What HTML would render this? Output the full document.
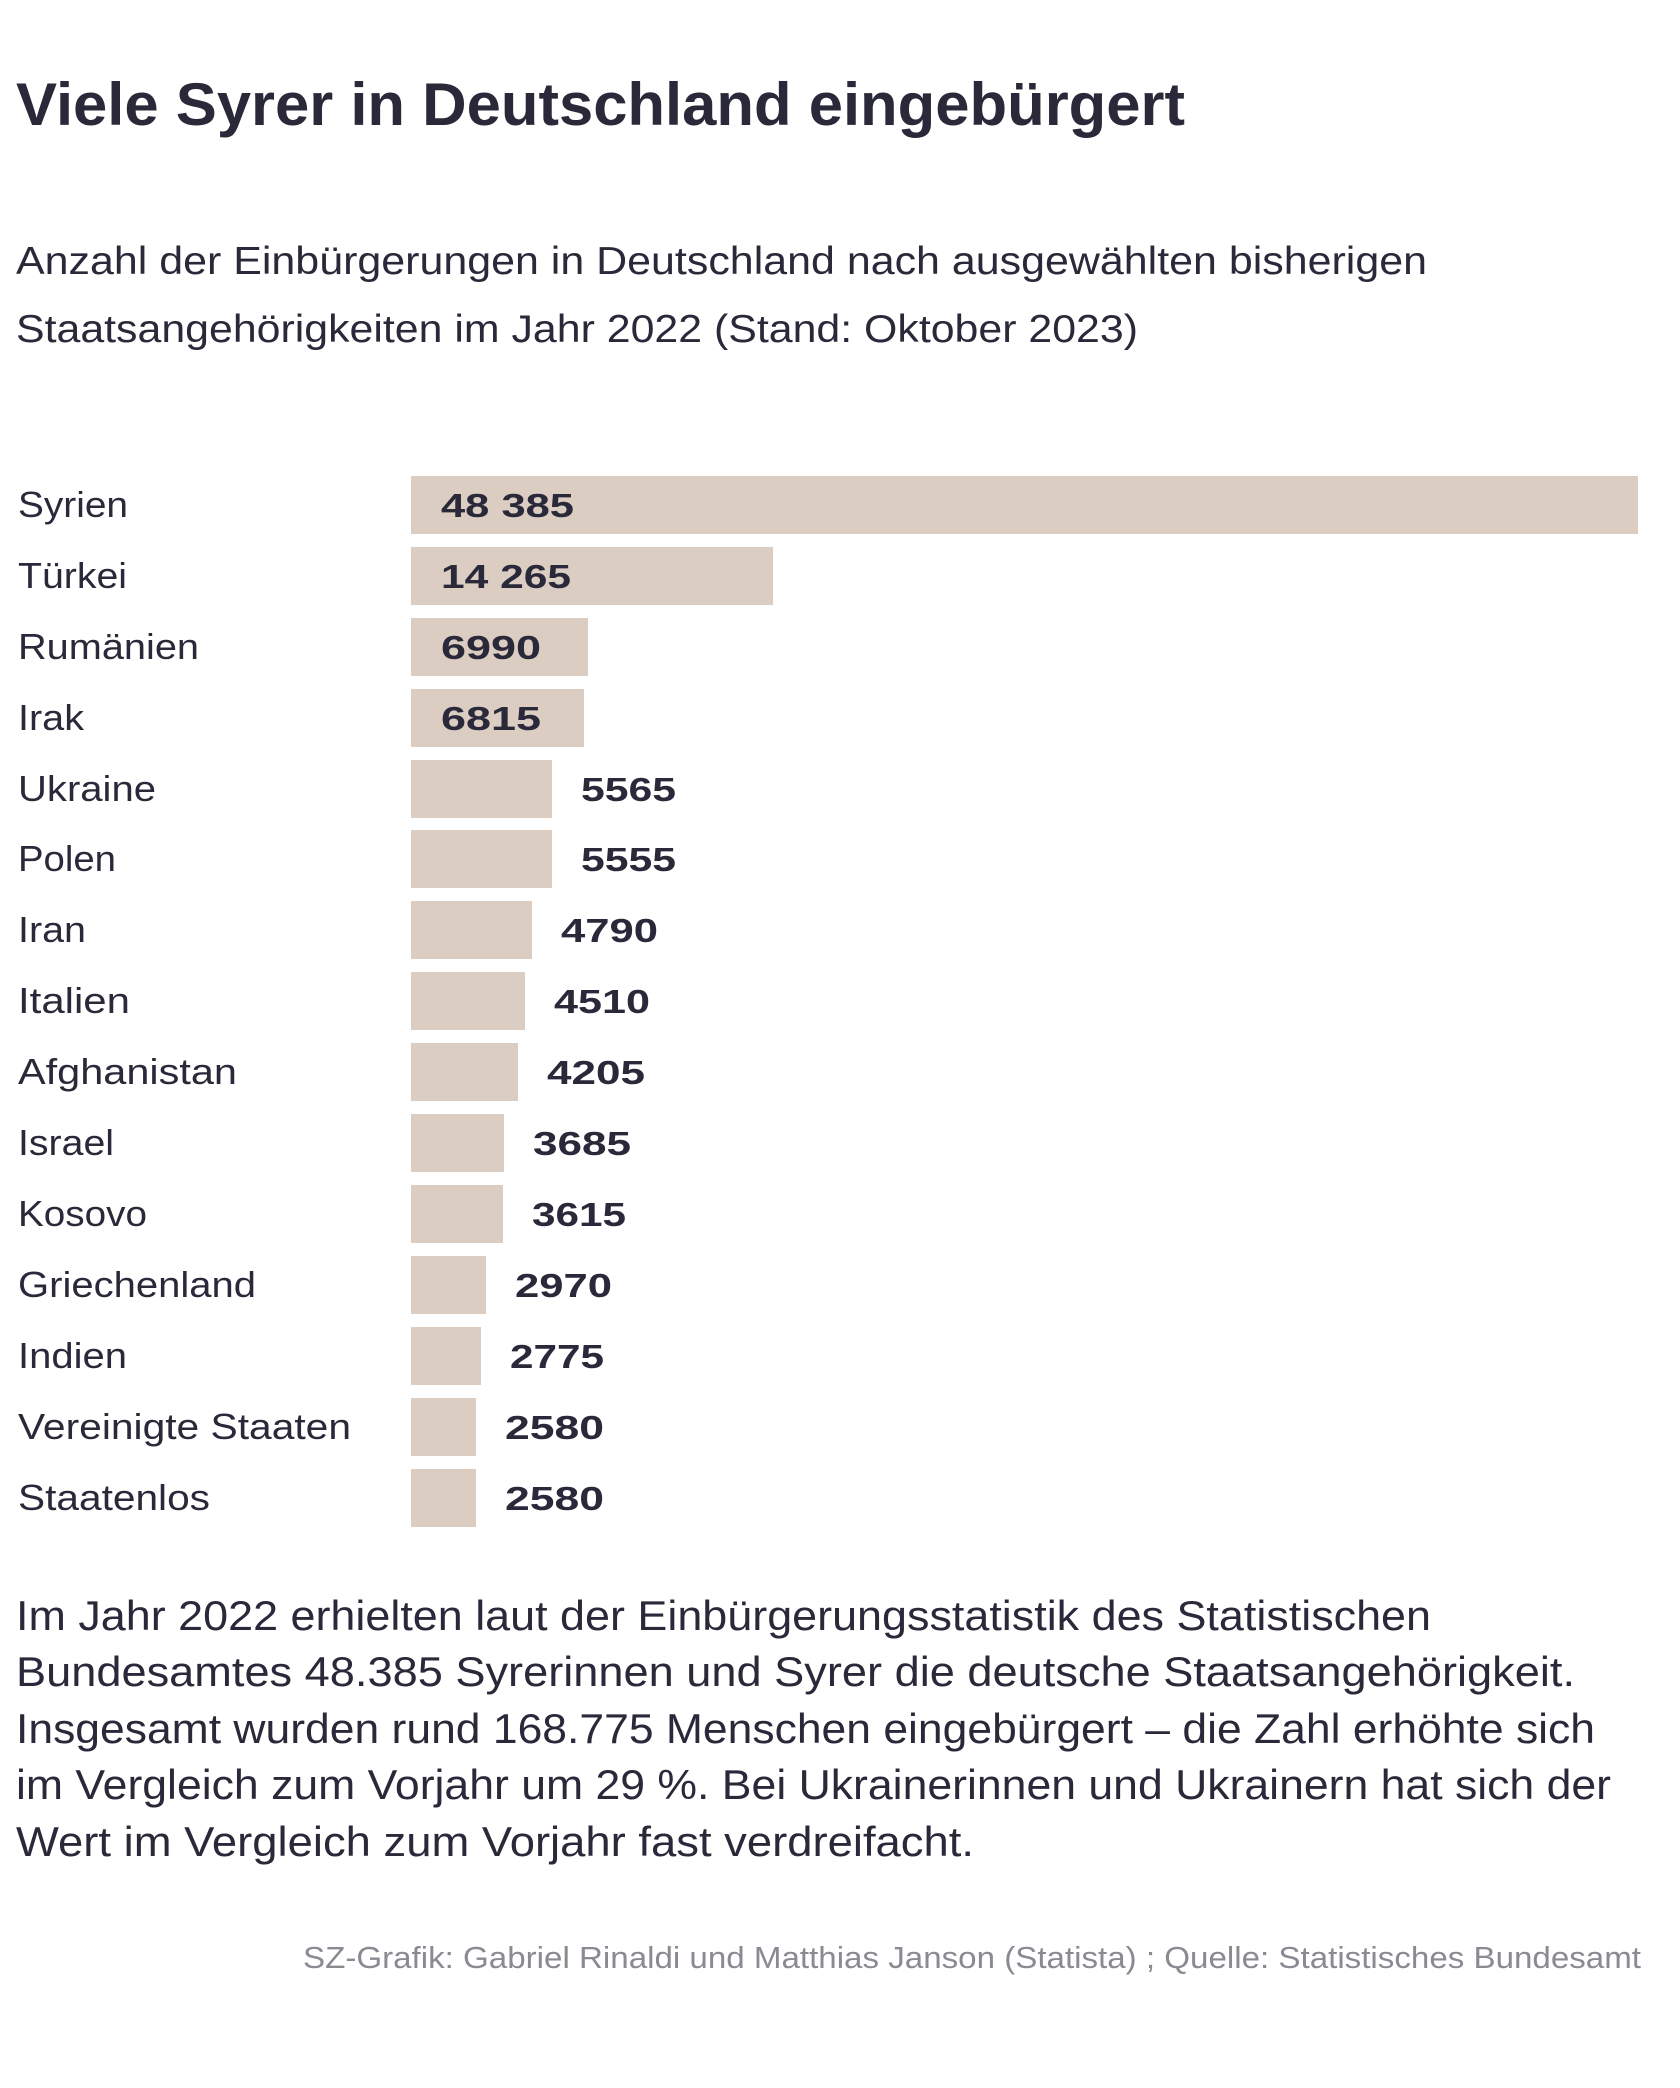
<!DOCTYPE html>
<html><head><meta charset="utf-8"><style>
html,body{margin:0;padding:0;background:#fff;}
svg{display:block;}
text{font-family:"Liberation Sans",sans-serif;fill:#29293a;}
.c{font-size:36px;}
.v{font-size:33px;font-weight:bold;}
.p{font-size:42px;}
</style></head><body>
<svg width="1680" height="2088" viewBox="0 0 1680 2088" xmlns="http://www.w3.org/2000/svg">
<text x="16" y="125" font-size="60" font-weight="bold" textLength="1169" lengthAdjust="spacingAndGlyphs">Viele Syrer in Deutschland eingebürgert</text>
<text x="16" y="274" font-size="39" textLength="1411" lengthAdjust="spacingAndGlyphs">Anzahl der Einbürgerungen in Deutschland nach ausgewählten bisherigen</text>
<text x="16" y="342" font-size="39" textLength="1122" lengthAdjust="spacingAndGlyphs">Staatsangehörigkeiten im Jahr 2022 (Stand: Oktober 2023)</text>
<g fill="#dbcdc2">
<rect x="411" y="476" width="1227" height="58"/>
<rect x="411" y="547" width="362" height="58"/>
<rect x="411" y="618" width="177" height="58"/>
<rect x="411" y="689" width="173" height="58"/>
<rect x="411" y="760" width="141" height="58"/>
<rect x="411" y="830" width="141" height="58"/>
<rect x="411" y="901" width="121" height="58"/>
<rect x="411" y="972" width="114" height="58"/>
<rect x="411" y="1043" width="107" height="58"/>
<rect x="411" y="1114" width="93" height="58"/>
<rect x="411" y="1185" width="92" height="58"/>
<rect x="411" y="1256" width="75" height="58"/>
<rect x="411" y="1327" width="70" height="58"/>
<rect x="411" y="1398" width="65" height="58"/>
<rect x="411" y="1469" width="65" height="58"/>
</g>
<g class="c">
<text x="18" y="517" textLength="110" lengthAdjust="spacingAndGlyphs">Syrien</text>
<text x="18" y="588" textLength="109" lengthAdjust="spacingAndGlyphs">Türkei</text>
<text x="18" y="659" textLength="181" lengthAdjust="spacingAndGlyphs">Rumänien</text>
<text x="18" y="730" textLength="66" lengthAdjust="spacingAndGlyphs">Irak</text>
<text x="18" y="801" textLength="138" lengthAdjust="spacingAndGlyphs">Ukraine</text>
<text x="18" y="871" textLength="98" lengthAdjust="spacingAndGlyphs">Polen</text>
<text x="18" y="942" textLength="68" lengthAdjust="spacingAndGlyphs">Iran</text>
<text x="18" y="1013" textLength="112" lengthAdjust="spacingAndGlyphs">Italien</text>
<text x="18" y="1084" textLength="219" lengthAdjust="spacingAndGlyphs">Afghanistan</text>
<text x="18" y="1155" textLength="96" lengthAdjust="spacingAndGlyphs">Israel</text>
<text x="18" y="1226" textLength="129" lengthAdjust="spacingAndGlyphs">Kosovo</text>
<text x="18" y="1297" textLength="238" lengthAdjust="spacingAndGlyphs">Griechenland</text>
<text x="18" y="1368" textLength="109" lengthAdjust="spacingAndGlyphs">Indien</text>
<text x="18" y="1439" textLength="333" lengthAdjust="spacingAndGlyphs">Vereinigte Staaten</text>
<text x="18" y="1510" textLength="192" lengthAdjust="spacingAndGlyphs">Staatenlos</text>
</g>
<g class="v">
<text x="441" y="517" textLength="133" lengthAdjust="spacingAndGlyphs">48 385</text>
<text x="441" y="588" textLength="130" lengthAdjust="spacingAndGlyphs">14 265</text>
<text x="441" y="659" textLength="100" lengthAdjust="spacingAndGlyphs">6990</text>
<text x="441" y="730" textLength="100" lengthAdjust="spacingAndGlyphs">6815</text>
<text x="581" y="801" textLength="95" lengthAdjust="spacingAndGlyphs">5565</text>
<text x="581" y="871" textLength="95" lengthAdjust="spacingAndGlyphs">5555</text>
<text x="561" y="942" textLength="97" lengthAdjust="spacingAndGlyphs">4790</text>
<text x="554" y="1013" textLength="96" lengthAdjust="spacingAndGlyphs">4510</text>
<text x="547" y="1084" textLength="98" lengthAdjust="spacingAndGlyphs">4205</text>
<text x="533" y="1155" textLength="98" lengthAdjust="spacingAndGlyphs">3685</text>
<text x="532" y="1226" textLength="94" lengthAdjust="spacingAndGlyphs">3615</text>
<text x="515" y="1297" textLength="97" lengthAdjust="spacingAndGlyphs">2970</text>
<text x="510" y="1368" textLength="94" lengthAdjust="spacingAndGlyphs">2775</text>
<text x="505" y="1439" textLength="99" lengthAdjust="spacingAndGlyphs">2580</text>
<text x="505" y="1510" textLength="99" lengthAdjust="spacingAndGlyphs">2580</text>
</g>
<g class="p" style="fill:#3a3a48">
<text x="16" y="1630" textLength="1415" lengthAdjust="spacingAndGlyphs">Im Jahr 2022 erhielten laut der Einbürgerungsstatistik des Statistischen</text>
<text x="16" y="1686" textLength="1559" lengthAdjust="spacingAndGlyphs">Bundesamtes 48.385 Syrerinnen und Syrer die deutsche Staatsangehörigkeit.</text>
<text x="16" y="1743" textLength="1579" lengthAdjust="spacingAndGlyphs">Insgesamt wurden rund 168.775 Menschen eingebürgert – die Zahl erhöhte sich</text>
<text x="16" y="1799" textLength="1595" lengthAdjust="spacingAndGlyphs">im Vergleich zum Vorjahr um 29 %. Bei Ukrainerinnen und Ukrainern hat sich der</text>
<text x="16" y="1856" textLength="958" lengthAdjust="spacingAndGlyphs">Wert im Vergleich zum Vorjahr fast verdreifacht.</text>
</g>
<text x="303" y="1968" font-size="31" style="fill:#8a8a92" textLength="1338" lengthAdjust="spacingAndGlyphs">SZ-Grafik: Gabriel Rinaldi und Matthias Janson (Statista) ; Quelle: Statistisches Bundesamt</text>
</svg>
</body></html>
